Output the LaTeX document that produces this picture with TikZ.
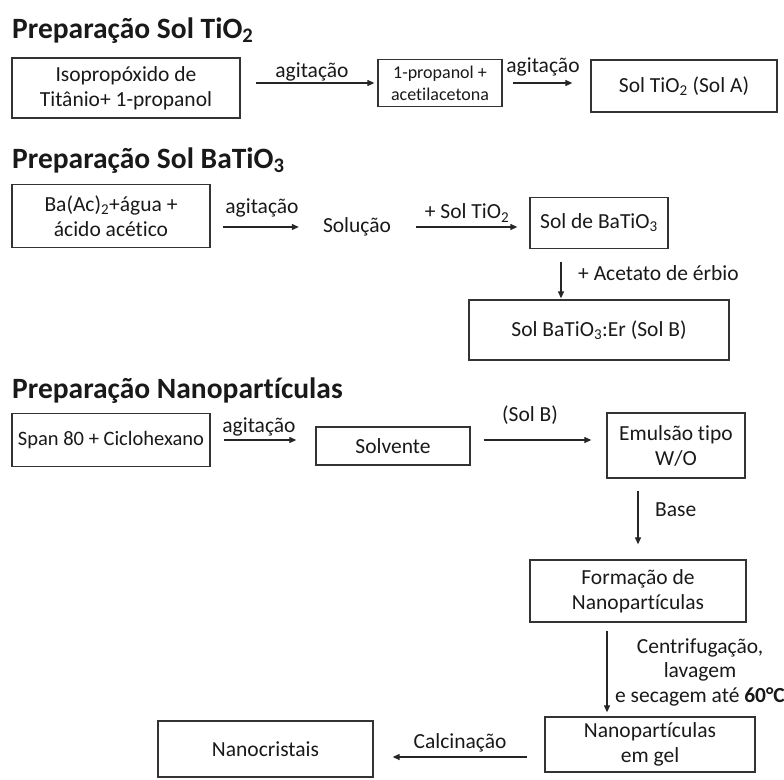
\documentclass[tikz,border=0pt]{standalone}
\usepackage{fontspec}
\setmainfont{Carlito}[Ligatures=NoCommon]
\usetikzlibrary{arrows.meta}

\begin{document}
\begin{tikzpicture}[
  x=1pt,y=-1pt,
  >={Triangle[length=7pt,width=6pt]},
  every node/.style={text=black!90},
  box/.style={draw=black!80,line width=1.3pt,align=center,inner sep=2pt,font=\fontsize{21.5}{25}\selectfont},
  smallbox/.style={box,font=\fontsize{18}{22}\selectfont},
  ttl/.style={anchor=base west,inner sep=0pt,font=\fontsize{29.5}{34}\selectfont\bfseries},
  lbl/.style={font=\fontsize{21.5}{24.5}\selectfont,align=center,inner sep=0pt},
  arr/.style={->,line width=1.2pt,draw=black!85}]

\useasboundingbox (0,0) rectangle (784,779);

% Sol TiO2
\node[ttl] (tA) at (12,38) {Preparação Sol TiO\textsubscript{2}};
\node[box,minimum width=228,minimum height=60] (A1) at (126,88) {Isopropóxido de\\Titânio+ 1-propanol};
\node[smallbox,minimum width=124,minimum height=47] (A2) at (440,83) {1-propanol +\\acetilacetona};
\node[box,minimum width=186,minimum height=52] (A3) at (684,86) {Sol TiO\textsubscript{2} (Sol A)};
\draw[arr,shorten <=15pt,shorten >=3pt] (A1.east |- A2.west) -- (A2.west);
\draw[arr,shorten <=10pt,shorten >=18pt] (A2.east) -- (A2.east -| A3.west);
\node[lbl] (lA1) at (312,72) {agitação};
\node[lbl] (lA2) at (543,67) {agitação};

% Sol BaTiO3
\node[ttl] (tB) at (12,168) {Preparação Sol BaTiO\textsubscript{3}};
\node[box,minimum width=198,minimum height=63] (B1) at (111,216) {Ba(Ac)\textsubscript{2}+água +\\ácido acético};
\node[lbl] (sol) at (357,227) {Solução};
\node[box,minimum width=138,minimum height=51] (B2) at (599,223) {Sol de BaTiO\textsubscript{3}};
\node[box,minimum width=260,minimum height=60] (B3) at (599,330) {Sol BaTiO\textsubscript{3}:Er (Sol B)};
\draw[arr,shorten <=12pt,shorten >=24pt] (B1.east |- sol) -- (sol);
\draw[arr,shorten <=25pt,shorten >=12pt] (sol) -- (sol -| B2.west);
\draw[arr,shorten <=13pt,shorten >=1pt] ([xshift=-38pt]B2.south) -- ([xshift=-38pt]B2.south |- B3.north);
\node[lbl] (lB1) at (262,208) {agitação};
\node[lbl] (lB2) at (467,213) {+ Sol TiO\textsubscript{2}};
\node[lbl,anchor=west] (lB3) at (578,273) {+ Acetato de érbio};

% Nanoparticulas
\node[ttl] (tC) at (12,398) {Preparação Nanopartículas};
\node[box,minimum width=198,minimum height=53,font=\fontsize{20.5}{25}\selectfont] (C1) at (111,440) {Span 80 + Ciclohexano};
\node[box,minimum width=154,minimum height=38] (C2) at (393,446) {Solvente};
\node[box,minimum width=138,minimum height=65] (C3) at (676,445.5) {Emulsão tipo\\W/O};
\node[box,minimum width=216,minimum height=62] (C4) at (638,591) {Formação de\\Nanopartículas};
\node[box,minimum width=210,minimum height=55] (C5) at (650,744.5) {Nanopartículas\\em gel};
\node[box,minimum width=215,minimum height=56] (C6) at (265.5,749) {Nanocristais};
\draw[arr,shorten <=13pt,shorten >=19pt] (C1.east) -- (C1.east -| C2.west);
\draw[arr,shorten <=13pt,shorten >=15pt] (C2.east |- C1.east) -- (C1.east -| C3.west);
\draw[arr,shorten <=12pt,shorten >=15pt] (C4.north |- C3.south) -- (C4.north);
\draw[arr,shorten <=8pt,shorten >=4pt] ([xshift=-31pt]C4.south) -- ([xshift=-31pt]C4.south |- C5.north);
\draw[arr,shorten <=17pt,shorten >=19pt] ([yshift=-12.5pt]C5.west) -- ([yshift=-12.5pt]C5.west -| C6.east);
\node[lbl] (lC1) at (259,427) {agitação};
\node[lbl] (lC2) at (530,415) {(Sol B)};
\node[lbl,anchor=west] (lC3) at (655,510) {Base};
\node[lbl] (lC4) at (700,672) {Centrifugação,\\lavagem\\e secagem até {\bfseries 60°C}};
\node[lbl] (lC5) at (460,743) {Calcinação};
\end{tikzpicture}
\end{document}
